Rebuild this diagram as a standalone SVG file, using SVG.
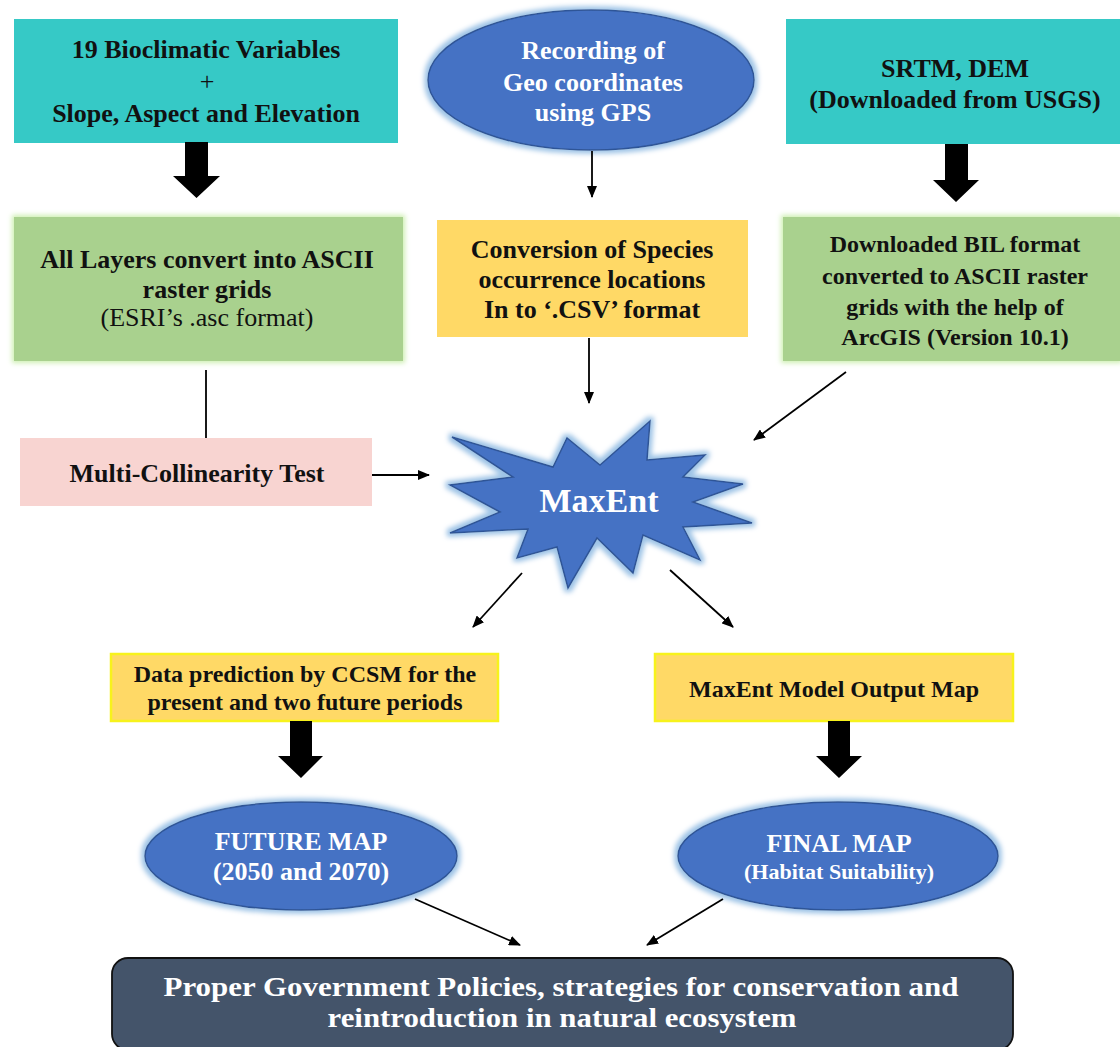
<svg xmlns="http://www.w3.org/2000/svg" width="1120" height="1047" viewBox="0 0 1120 1047">
<defs>
<style>
text{font-family:"Liberation Serif","Times New Roman",serif;text-anchor:middle;}
.b{font-weight:bold;}
.dk{fill:#111111;}
.wh{fill:#ffffff;}
.f26{font-size:26px;}
.f24{font-size:24px;}
.f22{font-size:22px;}
.f28{font-size:28px;}
.cyan{fill:#36C9C6;}
.green{fill:#A9D18E;}
.yel{fill:#FFD966;}
.yelb{fill:#FFD966;stroke:#F7F21C;stroke-width:2.5;}
.pink{fill:#F8D4D1;}
.blue{fill:#4472C4;stroke:#2F5597;stroke-width:1.5;}
.thin{stroke:#000;stroke-width:1.8;fill:none;}
.big{fill:#000;}
</style>
<filter id="glowB" x="-20%" y="-30%" width="140%" height="160%">
<feMorphology in="SourceAlpha" operator="dilate" radius="3" result="d"/>
<feGaussianBlur in="d" stdDeviation="2.5" result="bl"/>
<feFlood flood-color="#9DC3E6"/>
<feComposite in2="bl" operator="in" result="g"/>
<feMerge><feMergeNode in="g"/><feMergeNode in="SourceGraphic"/></feMerge>
</filter>
<filter id="glowG" x="-10%" y="-20%" width="120%" height="140%">
<feMorphology in="SourceAlpha" operator="dilate" radius="2" result="d"/>
<feGaussianBlur in="d" stdDeviation="2.5" result="bl"/>
<feFlood flood-color="#CDEFB0"/>
<feComposite in2="bl" operator="in" result="g"/>
<feMerge><feMergeNode in="g"/><feMergeNode in="SourceGraphic"/></feMerge>
</filter>
<marker id="ah" viewBox="0 0 12 10" refX="11" refY="5" markerWidth="12" markerHeight="10" markerUnits="userSpaceOnUse" orient="auto">
<path d="M0,0 L12,5 L0,10 Z" fill="#000"/>
</marker>
</defs>
<rect width="1120" height="1047" fill="#ffffff"/>

<g id="bioclim">
<rect class="cyan" x="14" y="19" width="384" height="124"/>
<text class="b dk f26" x="206" y="58">19 Bioclimatic Variables</text>
<text class="dk f26" x="207" y="90">+</text>
<text class="b dk f26" x="206" y="122">Slope, Aspect and Elevation</text>
</g>

<g id="gps">
<ellipse class="blue" cx="591" cy="80" rx="163" ry="70" filter="url(#glowB)"/>
<text class="b wh f26" x="593" y="59">Recording of</text>
<text class="b wh f26" x="593" y="91">Geo coordinates</text>
<text class="b wh f26" x="593" y="121">using GPS</text>
</g>

<g id="srtm">
<rect class="cyan" x="786" y="19" width="334" height="125"/>
<text class="b dk f26" x="955" y="77">SRTM, DEM</text>
<text class="b dk f26" x="955" y="108">(Downloaded from USGS)</text>
</g>

<g id="ascii">
<rect class="green" x="14" y="217" width="389" height="144" filter="url(#glowG)"/>
<text class="b dk f26" x="207" y="268">All Layers convert into ASCII</text>
<text class="b dk f26" x="207" y="298">raster grids</text>
<text class="dk f26" x="207" y="326">(ESRI’s .asc format)</text>
</g>

<g id="csv">
<rect class="yel" x="437" y="220" width="311" height="117"/>
<text class="b dk f26" x="592" y="258">Conversion of Species</text>
<text class="b dk f26" x="592" y="288">occurrence locations</text>
<text class="b dk f26" x="592" y="318">In to ‘.CSV’ format</text>
</g>

<g id="bil">
<rect class="green" x="783" y="217" width="337" height="144" filter="url(#glowG)"/>
<text class="b dk f24" x="955" y="252">Downloaded BIL format</text>
<text class="b dk f24" x="955" y="284">converted to ASCII raster</text>
<text class="b dk f24" x="955" y="315">grids with the help of</text>
<text class="b dk f24" x="955" y="345">ArcGIS (Version 10.1)</text>
</g>

<g id="multicol">
<rect class="pink" x="20" y="438" width="352" height="68"/>
<text class="b dk f26" x="197" y="482">Multi-Collinearity Test</text>
</g>

<g id="maxent">
<polygon class="blue" filter="url(#glowB)" points="452,437 553,467 567,438 600,465 650,421 647,460 705,455 683,477 743,484 693,502 752,523 683,527 700,560 643,535 633,573 597,538 568,588 557,547 517,558 528,529 450,533 500,512 450,485 513,477"/>
<text class="b wh" style="font-size:34px" x="599" y="512">MaxEnt</text>
</g>

<g id="ccsm">
<rect class="yelb" x="111" y="654" width="387" height="67"/>
<text class="b dk f24" x="305" y="682">Data prediction by CCSM for the</text>
<text class="b dk f24" x="305" y="710">present and two future periods</text>
</g>

<g id="output">
<rect class="yelb" x="655" y="654" width="358" height="67"/>
<text class="b dk f24" x="834" y="697">MaxEnt Model Output Map</text>
</g>

<g id="future">
<ellipse class="blue" cx="301" cy="856" rx="156" ry="54" filter="url(#glowB)"/>
<text class="b wh f26" x="301" y="850">FUTURE MAP</text>
<text class="b wh f26" x="301" y="880">(2050 and 2070)</text>
</g>

<g id="final">
<ellipse class="blue" cx="838" cy="856" rx="160" ry="54" filter="url(#glowB)"/>
<text class="b wh f26" x="839" y="852">FINAL MAP</text>
<text class="b wh f22" x="839" y="879">(Habitat Suitability)</text>
</g>

<g id="policy">
<rect x="112" y="958" width="901" height="92" rx="16" ry="16" fill="#44546A" stroke="#111" stroke-width="1.8"/>
<text class="b wh f28" x="561" y="996" textLength="795" lengthAdjust="spacingAndGlyphs">Proper Government Policies, strategies for conservation and</text>
<text class="b wh f28" x="562" y="1027" textLength="469" lengthAdjust="spacingAndGlyphs">reintroduction in natural ecosystem</text>
</g>

<g id="connectors">
<polygon class="big" points="185,142 208,142 208,176 220,176 196.5,198 173,176 185,176"/>
<polygon class="big" points="945,144 968,144 968,180 979,180 956,202 933,180 945,180"/>
<polygon class="big" points="290,721 312,721 312,756 323,756 301,778 278,756 290,756"/>
<polygon class="big" points="828,721 850,721 850,756 862,756 839,778 816,756 828,756"/>
<line class="thin" x1="592" y1="151" x2="592" y2="197" marker-end="url(#ah)"/>
<line class="thin" x1="589" y1="338" x2="589" y2="403" marker-end="url(#ah)"/>
<line class="thin" x1="846" y1="372" x2="754" y2="440" marker-end="url(#ah)"/>
<line class="thin" x1="206" y1="370" x2="206" y2="438"/>
<line class="thin" x1="372" y1="475" x2="429" y2="475" marker-end="url(#ah)"/>
<line class="thin" x1="522" y1="573" x2="473" y2="627" marker-end="url(#ah)"/>
<line class="thin" x1="670" y1="570" x2="733" y2="627" marker-end="url(#ah)"/>
<line class="thin" x1="415" y1="899" x2="520" y2="945" marker-end="url(#ah)"/>
<line class="thin" x1="723" y1="899" x2="647" y2="945" marker-end="url(#ah)"/>
</g>
</svg>
